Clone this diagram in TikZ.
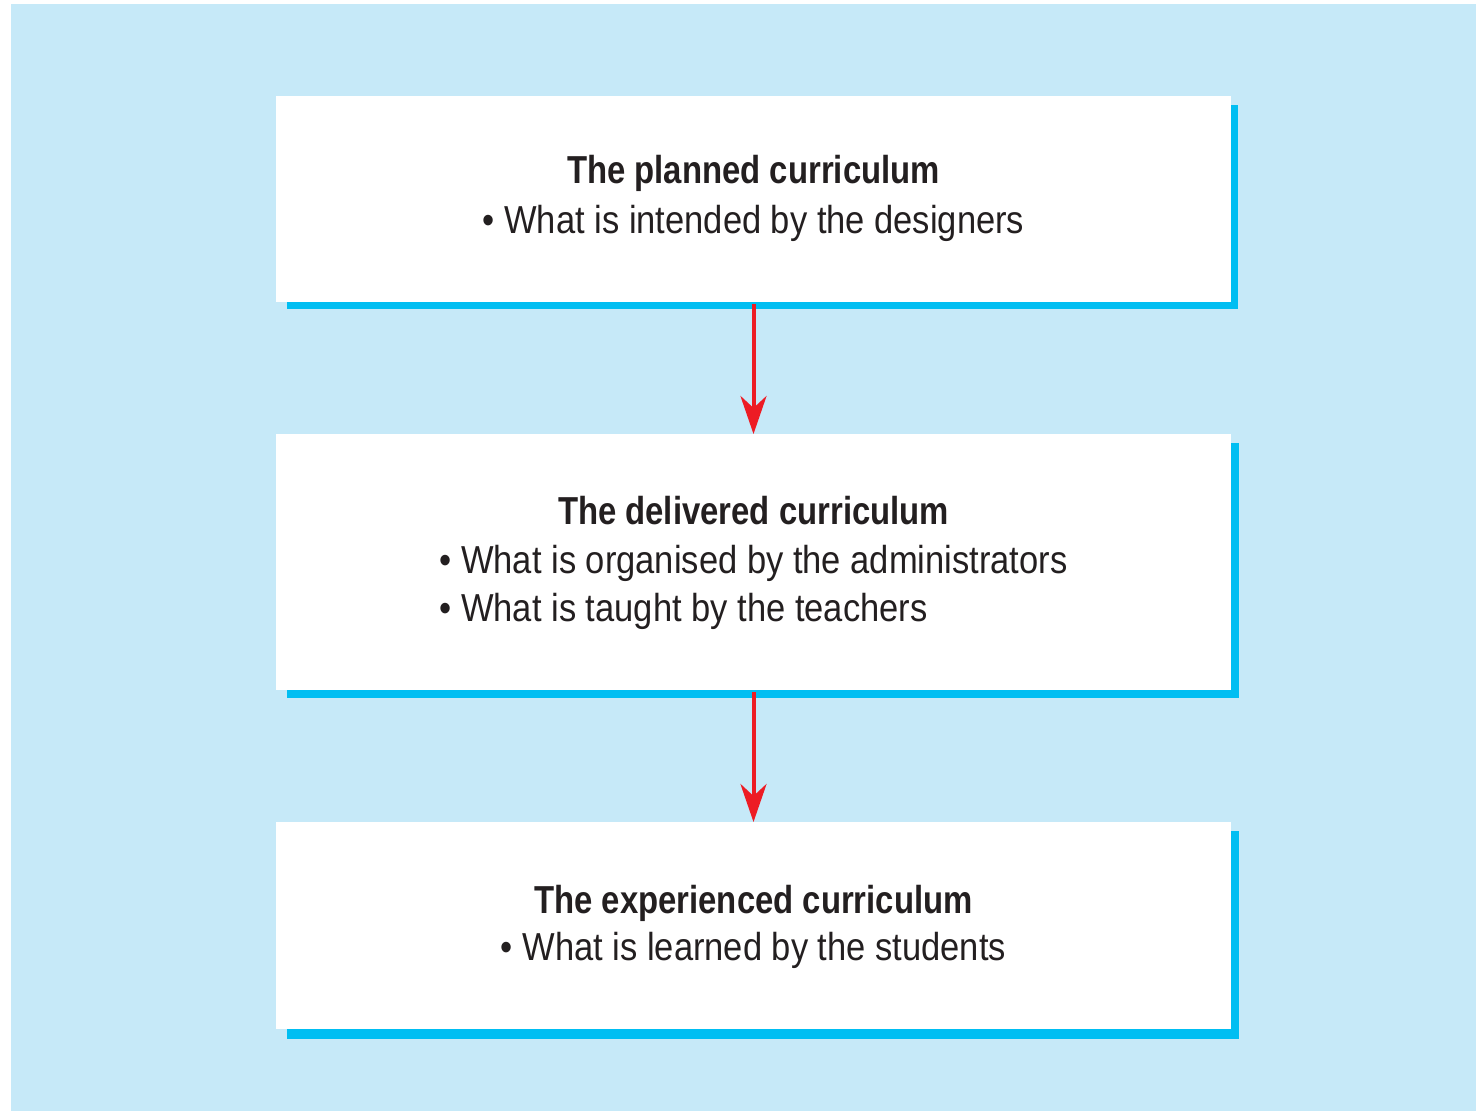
\documentclass[tikz,border=0pt]{standalone}
\usepackage{fontspec}
\setmainfont{Liberation Sans}[FakeStretch=0.885]
\newfontfamily\titlefont{Liberation Sans}[FakeStretch=0.843]
\usetikzlibrary{arrows.meta}
\definecolor{bgblue}{RGB}{198,233,248}
\definecolor{shadowcyan}{RGB}{0,190,242}
\definecolor{arrowred}{RGB}{237,28,36}
\definecolor{textdark}{RGB}{35,31,32}
\pgfdeclarelayer{back}
\pgfdeclarelayer{mid}
\pgfsetlayers{back,mid,main}
\tikzset{
  boxnode/.style={rectangle, fill=white, inner sep=0pt, outer sep=0pt, minimum width=955pt},
  boxshadow/.style={fill=shadowcyan},
  titletext/.style={anchor=base, inner sep=0pt, text=textdark, font=\titlefont\bfseries\fontsize{39}{47}\selectfont},
  itemtext/.style={inner sep=0pt, text=textdark, font=\fontsize{39}{47}\selectfont},
  flowarrow/.style={draw=arrowred, line width=4pt, -{Stealth[length=38pt, width=26pt, inset=12pt]}}
}
\begin{document}
\begin{tikzpicture}[x=1pt, y=-1pt]
\useasboundingbox (0,0) rectangle (1476,1111);
\begin{pgfonlayer}{back}
  \fill[bgblue] (11,4) rectangle (1476,1111);
\end{pgfonlayer}

% boxes
\node[boxnode, minimum height=206pt] (b1) at (753.5,199) {};
\node[boxnode, minimum height=256pt] (b2) at (753.5,562) {};
\node[boxnode, minimum height=207pt] (b3) at (753.5,925.5) {};

\begin{pgfonlayer}{mid}
  \fill[boxshadow] ([shift={(11,9)}]b1.north west) rectangle ([shift={(7,7)}]b1.south east);
  \fill[boxshadow] ([shift={(11,9)}]b2.north west) rectangle ([shift={(8,8)}]b2.south east);
  \fill[boxshadow] ([shift={(11,9)}]b3.north west) rectangle ([shift={(8,10)}]b3.south east);
\end{pgfonlayer}

% texts
\node[titletext] (t1) at (753.5,183) {The planned curriculum};
\node[itemtext, anchor=base] (i11) at (753.5,233) {\textbullet\ What is intended by the designers};

\node[titletext] (t2) at (753.5,524) {The delivered curriculum};
\node[itemtext, anchor=base] (i21) at (753.5,573) {\textbullet\ What is organised by the administrators};
\node[itemtext, anchor=base west] (i22) at ([yshift=-48pt]i21.base west) {\textbullet\ What is taught by the teachers};

\node[titletext] (t3) at (753.5,913) {The experienced curriculum};
\node[itemtext, anchor=base] (i31) at (753.5,960) {\textbullet\ What is learned by the students};

% arrows
\draw[flowarrow] ([yshift=-2]b1.south) -- (b2.north);
\draw[flowarrow] ([yshift=-2]b2.south) -- (b3.north);
\end{tikzpicture}
\end{document}
